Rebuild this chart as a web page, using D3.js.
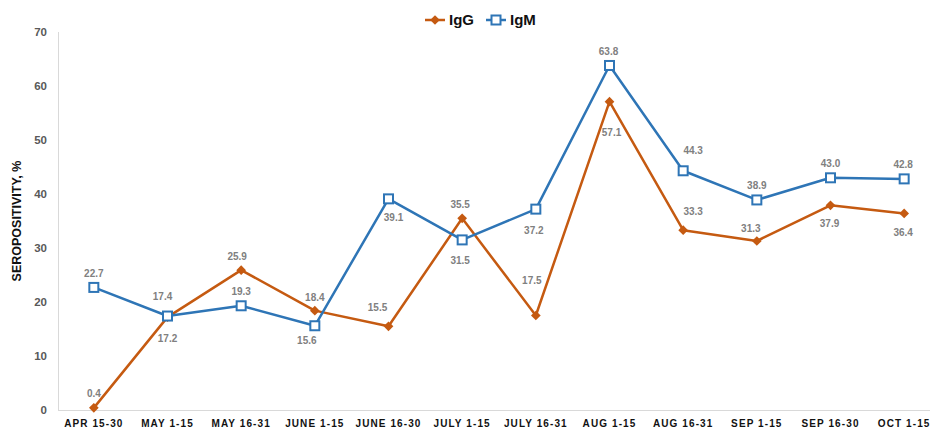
<!DOCTYPE html>
<html>
<head>
<meta charset="utf-8">
<script src="https://cdn.jsdelivr.net/npm/d3@7"></script>
<style>
  body { margin: 0; background: #fff; }
  svg { display: block; font-family: "Liberation Sans", Arial, sans-serif; }
</style>
</head>
<body>
<div class="chart"></div>
<script>
var periods = ["APR 15-30", "MAY 1-15", "MAY 16-31", "JUNE 1-15", "JUNE 16-30", "JULY 1-15",
    "JULY 16-31", "AUG 1-15", "AUG 16-31", "SEP 1-15", "SEP 16-30", "OCT 1-15"];
var igG = [0.4, 17.2, 25.9, 18.4, 15.5, 35.5, 17.5, 57.1, 33.3, 31.3, 37.9, 36.4];
var igM = [22.7, 17.4, 19.3, 15.6, 39.1, 31.5, 37.2, 63.8, 44.3, 38.9, 43.0, 42.8];
var yTicks = [0, 10, 20, 30, 40, 50, 60, 70];

// where each value label sits relative to its point (px)
var igGLabelOffset = [[0, -14], [0, 21], [-4, -14], [0, -13], [-11, -19], [-2, -14],
    [-4, -35], [2, 31], [10, -19], [-6, -12], [-1, 18], [-1, 19]];
var igMLabelOffset = [[0, -14], [-5, -20], [0, -14], [-8, 15], [5, 19], [-2, 21],
    [-2, 21], [-1, -14], [10, -20], [0, -14], [0, -14], [-1, -14]];

var width = 930, height = 429;

var svg = d3.select(".chart").append("svg")
    .attr("width", width)
    .attr("height", height);

var x = d3.scalePoint()
    .domain(periods)
    .range([57, 941])
    .padding(0.5);

var y = d3.scaleLinear()
    .domain([0, 70])
    .range([410, 32]);

// axis lines
svg.append("line")
    .attr("x1", 58).attr("x2", width)
    .attr("y1", y(0) + 0.5).attr("y2", y(0) + 0.5)
    .attr("stroke", "#d9d9d9");
svg.append("line")
    .attr("x1", 58.5).attr("x2", 58.5)
    .attr("y1", y(70)).attr("y2", y(0))
    .attr("stroke", "#d9d9d9");

// y tick labels
svg.append("g")
    .selectAll("text")
    .data(yTicks)
    .enter()
    .append("text")
    .attr("x", 47)
    .attr("y", d => y(d))
    .attr("dy", "0.35em")
    .attr("text-anchor", "end")
    .attr("font-size", 11.5)
    .attr("font-weight", "bold")
    .attr("fill", "#595959")
    .text(d => d);

// x labels
svg.append("g")
    .selectAll("text")
    .data(periods)
    .enter()
    .append("text")
    .attr("x", d => x(d))
    .attr("y", 427)
    .attr("text-anchor", "middle")
    .attr("font-size", 10)
    .attr("font-weight", "bold")
    .attr("letter-spacing", "1.1px")
    .attr("fill", "#111")
    .text(d => d);

// y title
svg.append("text")
    .attr("transform", "translate(21,221) rotate(-90)")
    .attr("text-anchor", "middle")
    .attr("font-size", 12.5)
    .attr("font-weight", "bold")
    .attr("fill", "#111")
    .text("SEROPOSITIVITY, %");

var series = [
    { name: "IgG", values: igG, color: "#C55A11", marker: "diamond", offsets: igGLabelOffset },
    { name: "IgM", values: igM, color: "#2E75B6", marker: "square", offsets: igMLabelOffset }
];

var line = d3.line()
    .x((d, i) => x(periods[i]))
    .y(d => y(d));

series.forEach(function (s) {
    svg.append("path")
        .datum(s.values)
        .attr("d", line)
        .attr("fill", "none")
        .attr("stroke", s.color)
        .attr("stroke-width", 2.5)
        .attr("stroke-linejoin", "round");
});

function drawMarker(g, s, cx, cy) {
    if (s.marker == "diamond") {
        g.append("path")
            .attr("d", d3.symbol().type(d3.symbolDiamond2).size(60)())
            .attr("transform", "translate(" + cx + "," + cy + ")")
            .attr("fill", s.color);
    } else {
        g.append("rect")
            .attr("x", cx - 4.5).attr("y", cy - 4.5)
            .attr("width", 9).attr("height", 9)
            .attr("fill", "#fff")
            .attr("stroke", s.color)
            .attr("stroke-width", 2);
    }
}

series.forEach(function (s) {
    var g = svg.append("g");
    s.values.forEach(function (v, i) {
        drawMarker(g, s, x(periods[i]), y(v));
    });
});

series.forEach(function (s) {
    svg.append("g")
        .selectAll("text")
        .data(s.values)
        .enter()
        .append("text")
        .attr("x", (d, i) => x(periods[i]) + s.offsets[i][0])
        .attr("y", (d, i) => y(d) + s.offsets[i][1])
        .attr("dy", "0.35em")
        .attr("text-anchor", "middle")
        .attr("font-size", 10)
        .attr("font-weight", "bold")
        .attr("fill", "#808080")
        .text(d => d.toFixed(1));
});

// legend
var legend = svg.append("g");
var lx = [425, 486];
series.forEach(function (s, i) {
    legend.append("line")
        .attr("x1", lx[i]).attr("x2", lx[i] + 20)
        .attr("y1", 20).attr("y2", 20)
        .attr("stroke", s.color)
        .attr("stroke-width", 2.5);
    drawMarker(legend, s, lx[i] + 10, 20);
    legend.append("text")
        .attr("x", lx[i] + 24)
        .attr("y", 20)
        .attr("dy", "0.35em")
        .attr("font-size", 15)
        .attr("font-weight", "bold")
        .attr("fill", "#111")
        .text(s.name);
});
</script>
</body>
</html>
